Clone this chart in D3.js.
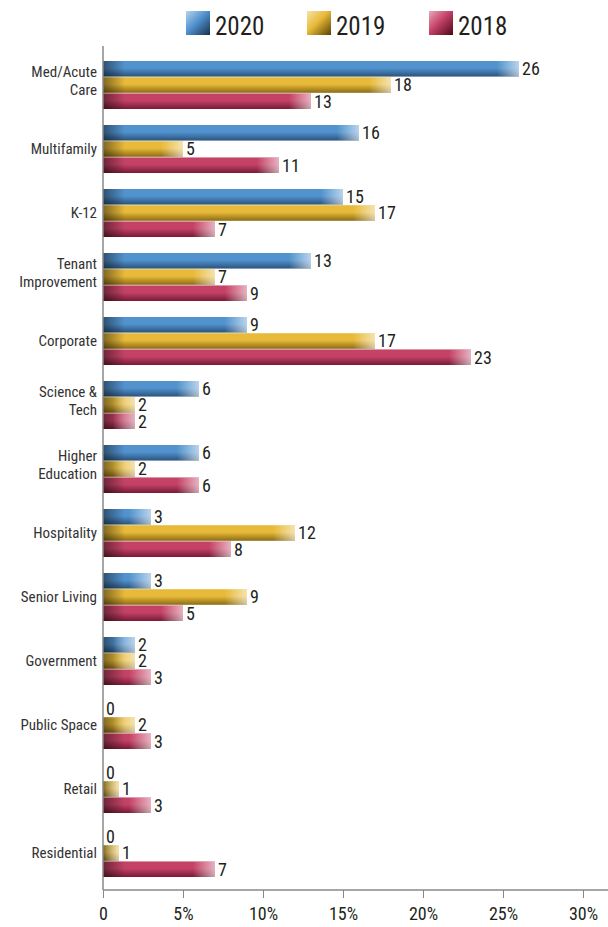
<!DOCTYPE html>
<html><head><meta charset="utf-8">
<script src="https://d3js.org/d3.v7.min.js"></script>
<style>body{margin:0;background:#fff}svg{display:block}</style>
</head><body>
<script>
const categories = ["Med/Acute Care","Multifamily","K-12","Tenant Improvement","Corporate","Science & Tech","Higher Education","Hospitality","Senior Living","Government","Public Space","Retail","Residential"];
const labelLines = [["Med/Acute","Care"],["Multifamily"],["K-12"],["Tenant","Improvement"],["Corporate"],["Science &","Tech"],["Higher","Education"],["Hospitality"],["Senior Living"],["Government"],["Public Space"],["Retail"],["Residential"]];
const seriesNames = ["2020","2019","2018"];
const values2020 = [26,16,15,13,9,6,6,3,3,2,0,0,0];
const values2019 = [18,5,17,7,17,2,2,12,9,2,2,1,1];
const values2018 = [13,11,7,9,23,2,6,8,5,3,3,3,7];
const xTicks = [0,5,10,15,20,25,30];
const xTickLabels = ["0","5%","10%","15%","20%","25%","30%"];

const seriesValues = [values2020, values2019, values2018];
const palette = {
  "2020": {light:"#b8d4ee", mid:"#5293cf", dark:"#14314f"},
  "2019": {light:"#f6e3a6", mid:"#e8ba3a", dark:"#5a4200"},
  "2018": {light:"#e6a9bb", mid:"#c54267", dark:"#4c0718"}
};
const W=608,H=927;
const FONT = "'Liberation Sans Narrow','Arial Narrow','Roboto Condensed',sans-serif";
const svg = d3.select("body").append("svg").attr("width",W).attr("height",H);
const defs = svg.append("defs");
seriesNames.forEach((s,i)=>{
  const c = palette[s];
  const g = defs.append("linearGradient").attr("id","v"+i).attr("x1",0).attr("y1",0).attr("x2",0).attr("y2",1);
  g.append("stop").attr("offset","0%").attr("stop-color",c.mid);
  g.append("stop").attr("offset","45%").attr("stop-color",c.mid);
  g.append("stop").attr("offset","100%").attr("stop-color",d3.interpolateRgb(c.mid,c.dark)(0.65));
  const lg = defs.append("linearGradient").attr("id","leg"+i).attr("x1",0).attr("y1",0).attr("x2",1).attr("y2",1);
  lg.append("stop").attr("offset","0%").attr("stop-color",c.light);
  lg.append("stop").attr("offset","45%").attr("stop-color",c.mid);
  lg.append("stop").attr("offset","100%").attr("stop-color",c.dark);
});
const gl = defs.append("linearGradient").attr("id","shadeL").attr("x1",0).attr("x2",1).attr("y1",0).attr("y2",0);
gl.append("stop").attr("offset","0%").attr("stop-color","#000").attr("stop-opacity",0.45);
gl.append("stop").attr("offset","100%").attr("stop-color","#000").attr("stop-opacity",0);
const gr = defs.append("linearGradient").attr("id","shadeR").attr("x1",0).attr("x2",1).attr("y1",0).attr("y2",0);
gr.append("stop").attr("offset","0%").attr("stop-color","#fff").attr("stop-opacity",0);
gr.append("stop").attr("offset","100%").attr("stop-color","#fff").attr("stop-opacity",0.6);

const x = d3.scaleLinear().domain([0,30]).range([103,583]);
const y = d3.scaleBand().domain(categories).range([53,885]).paddingInner(0.25).paddingOuter(0.125);
const ys = d3.scaleBand().domain(seriesNames).range([0,y.bandwidth()]).paddingInner(0.04);

const rows = [];
categories.forEach((c,ci)=>seriesNames.forEach((s,si)=>rows.push({c,s,si,v:seriesValues[si][ci]})));

const bars = svg.append("g");
const bg = bars.selectAll("g").data(rows).enter().append("g")
  .attr("transform",d=>`translate(0,${y(d.c)+ys(d.s)})`);
bg.filter(d=>d.v>0).append("rect").attr("x",x(0)).attr("y",0).attr("width",d=>x(d.v)-x(0)).attr("height",ys.bandwidth()).attr("fill",d=>`url(#v${d.si})`);
bg.filter(d=>d.v>0).append("rect").attr("x",x(0)).attr("y",0).attr("width",d=>Math.min(22,x(d.v)-x(0))).attr("height",ys.bandwidth()).attr("fill","url(#shadeL)");
bg.filter(d=>d.v>0).append("rect").attr("x",d=>x(d.v)-Math.min(22,x(d.v)-x(0))).attr("y",0).attr("width",d=>Math.min(22,x(d.v)-x(0))).attr("height",ys.bandwidth()).attr("fill","url(#shadeR)");
bg.append("text").attr("x",d=>x(d.v)+3).attr("y",ys.bandwidth()/2).attr("dy","0.36em")
  .attr("font-family",FONT).attr("font-size",18).attr("fill","#231f20").text(d=>d.v);

// category labels
const lab = svg.append("g");
categories.forEach((c,i)=>{
  const lines = labelLines[i];
  const cy = y(c)+y.bandwidth()/2 - (lines.length>1?4:0);
  const t = lab.append("text").attr("text-anchor","end").attr("font-family",FONT).attr("font-size",15).attr("fill","#333");
  lines.forEach((ln,k)=>{
    t.append("tspan").attr("x",97).attr("y",cy+(k-(lines.length-1)/2)*18).attr("dy","0.35em").text(ln);
  });
});

// axes
const axY = 890;
svg.append("line").attr("x1",x(0)).attr("x2",x(0)).attr("y1",46).attr("y2",axY).attr("stroke","#888").attr("stroke-width",1.5);
const xa = svg.append("g").attr("transform",`translate(0,${axY})`)
  .call(d3.axisBottom(x).tickValues(xTicks).tickFormat((d,i)=>xTickLabels[i]).tickSize(8).tickPadding(9).tickSizeOuter(0));
xa.select(".domain").attr("stroke","#888").attr("stroke-width",1.5).attr("d",`M${x(0)},0H${W}`);
xa.selectAll(".tick line").attr("stroke","#888");
xa.selectAll("text").attr("font-family",FONT).attr("font-size",18).attr("fill","#231f20");

// legend
const legX = [186,307,429];
const leg = svg.append("g");
seriesNames.forEach((s,i)=>{
  leg.append("rect").attr("x",legX[i]).attr("y",11).attr("width",24).attr("height",24).attr("fill",`url(#leg${i})`);
  leg.append("text").attr("x",legX[i]+29).attr("y",26).attr("dy","0.36em").attr("font-family",FONT).attr("font-size",25).attr("fill","#231f20").text(s);
});
</script>
</body></html>
